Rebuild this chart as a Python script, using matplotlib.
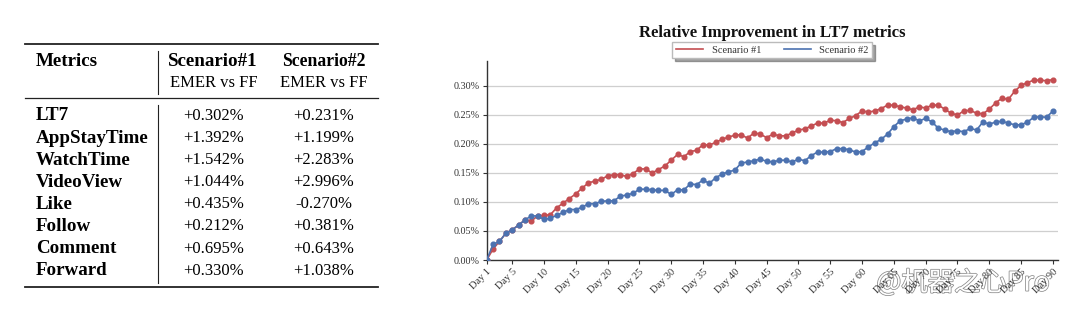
import numpy as np
import matplotlib.pyplot as plt
import matplotlib.patheffects as pe
from matplotlib.lines import Line2D

# Tabela de métricas
metrics = ['LT7', 'AppStayTime', 'WatchTime', 'VideoView', 'Like', 'Follow', 'Comment', 'Forward']
scenario1 = ['+0.302%', '+1.392%', '+1.542%', '+1.044%', '+0.435%', '+0.212%', '+0.695%', '+0.330%']
scenario2 = ['+0.231%', '+1.199%', '+2.283%', '+2.996%', '-0.270%', '+0.381%', '+0.643%', '+1.038%']

# Curvas diárias do LT7 (em %), Day 1 .. Day 90
lt7_s1 = [0.000, 0.019, 0.032, 0.046, 0.052, 0.060, 0.069, 0.067, 0.076, 0.077,
          0.078, 0.090, 0.098, 0.106, 0.114, 0.124, 0.133, 0.136, 0.139, 0.145,
          0.147, 0.147, 0.144, 0.149, 0.157, 0.157, 0.150, 0.156, 0.162, 0.172,
          0.182, 0.178, 0.187, 0.189, 0.199, 0.198, 0.203, 0.208, 0.212, 0.215,
          0.216, 0.210, 0.219, 0.217, 0.211, 0.217, 0.214, 0.214, 0.219, 0.224,
          0.226, 0.231, 0.236, 0.236, 0.241, 0.240, 0.237, 0.244, 0.249, 0.257,
          0.255, 0.257, 0.261, 0.267, 0.267, 0.264, 0.262, 0.259, 0.264, 0.262,
          0.267, 0.267, 0.260, 0.253, 0.250, 0.257, 0.258, 0.253, 0.252, 0.260,
          0.271, 0.279, 0.277, 0.291, 0.301, 0.306, 0.310, 0.310, 0.309, 0.311]
lt7_s2 = [0.000, 0.027, 0.032, 0.046, 0.052, 0.060, 0.069, 0.076, 0.076, 0.070,
          0.072, 0.077, 0.082, 0.087, 0.087, 0.091, 0.097, 0.097, 0.101, 0.102,
          0.102, 0.110, 0.112, 0.115, 0.122, 0.122, 0.121, 0.120, 0.120, 0.113,
          0.121, 0.121, 0.131, 0.130, 0.138, 0.132, 0.142, 0.148, 0.152, 0.155,
          0.167, 0.169, 0.171, 0.174, 0.170, 0.169, 0.172, 0.172, 0.169, 0.174,
          0.171, 0.180, 0.186, 0.186, 0.187, 0.192, 0.192, 0.190, 0.186, 0.187,
          0.195, 0.202, 0.208, 0.217, 0.230, 0.240, 0.243, 0.245, 0.240, 0.244,
          0.238, 0.227, 0.224, 0.221, 0.223, 0.221, 0.227, 0.224, 0.238, 0.234,
          0.238, 0.239, 0.236, 0.233, 0.233, 0.238, 0.246, 0.247, 0.246, 0.257]
tick_days = [1, 5, 10, 15, 20, 25, 30, 35, 40, 45, 50, 55, 60, 65, 70, 75, 80, 85, 90]
yticks = [0.00, 0.05, 0.10, 0.15, 0.20, 0.25, 0.30]

red = '#C44E52'
blue = '#4C72B0'
serif = 'Liberation Serif'

fig = plt.figure(figsize=(10.8, 3.21), dpi=100)

# ---------- tabela (coordenadas em pixels) ----------
axt = fig.add_axes([0, 0, 1, 1])
axt.set_xlim(0, 1080)
axt.set_ylim(321, 0)
axt.axis('off')

x_left, x_right, x_vl = 25, 378, 158.3
col1, col2 = 214, 324
axt.plot([x_left, x_right], [44.3, 44.3], color='#222', lw=1.3)
axt.plot([x_left, x_right], [98, 98], color='#222', lw=0.9)
axt.plot([x_left, x_right], [286.7, 286.7], color='#222', lw=1.3)
axt.plot([x_vl, x_vl], [50.7, 94], color='#222', lw=0.8)
axt.plot([x_vl, x_vl], [105, 283], color='#222', lw=0.8)

fs = 12
fb = 13.7
axt.text(36, 61, 'Metrics', fontsize=fb, fontweight='bold', family=serif, va='center', ha='left')
axt.text(col1 - 1, 61, 'Scenario#1', fontsize=fb, fontweight='bold', family=serif, va='center', ha='center')
axt.text(col2, 61, 'Scenario#2', fontsize=fb - 1, fontweight='bold', family=serif, va='center', ha='center')
axt.text(col1, 83, 'EMER vs FF', fontsize=fs, family=serif, va='center', ha='center')
axt.text(col2, 83, 'EMER vs FF', fontsize=fs, family=serif, va='center', ha='center')

for i in range(len(metrics)):
    yy = 116 + i * 22.1
    axt.text(36, yy, metrics[i], fontsize=fb, fontweight='bold', family=serif, va='center', ha='left')
    axt.text(col1, yy, scenario1[i], fontsize=fs, family=serif, va='center', ha='center')
    axt.text(col2, yy, scenario2[i], fontsize=fs, family=serif, va='center', ha='center')

# ---------- gráfico LT7 ----------
ax = fig.add_axes([486.7 / 1080, (321 - 260) / 321, (1058 - 486.7) / 1080, (260 - 60.7) / 321])
x = np.arange(len(lt7_s1))
ax.plot(x, lt7_s1, color=red, lw=1.2, marker='o', ms=3.4, zorder=3)
ax.plot(x, lt7_s2, color=blue, lw=1.2, marker='o', ms=3.4, zorder=3)

ax.set_xlim(0, 89.8)
ax.set_ylim(0, 0.3436)
ax.set_yticks(yticks)
ax.set_yticklabels(['%.2f%%' % v for v in yticks], fontsize=7.3, family=serif, color='#333')
ax.set_xticks([d - 1 for d in tick_days])
ax.set_xticklabels(['Day %d' % d for d in tick_days], fontsize=7.5, family=serif, color='#333',
                   rotation=45, ha='right', va='top', rotation_mode='anchor')
ax.tick_params(axis='both', length=3, width=0.8, color='#333', pad=2)
ax.grid(axis='y', color='#cfcfcf', lw=0.9)
ax.set_axisbelow(True)
for s in ['top', 'right']:
    ax.spines[s].set_visible(False)
for s in ['left', 'bottom']:
    ax.spines[s].set_color('#333')
    ax.spines[s].set_linewidth(1.0)

ax.set_title('Relative Improvement in LT7 metrics', fontsize=12, fontweight='bold',
             family=serif, pad=17, color='#111')
handles = [Line2D([0], [0], color=red, lw=1.2), Line2D([0], [0], color=blue, lw=1.2)]
ax.legend(handles, ['Scenario #1', 'Scenario #2'], loc='lower center', bbox_to_anchor=(0.5, 0.985),
          ncol=2, prop={'family': serif, 'size': 7.5}, shadow=True, fancybox=False,
          edgecolor='#bbbbbb', borderpad=0.35, handlelength=2.6, columnspacing=2.2,
          labelcolor='#333')

# marca d'água
axt.text(963, 283, '@机器之心Pro', fontsize=19, color='white', ha='center', va='center',
         family=['Noto Sans CJK SC', 'DejaVu Sans'],
         path_effects=[pe.withStroke(linewidth=1.1, foreground='#8a8a8a')])

fig.savefig('out.png', dpi=100)
